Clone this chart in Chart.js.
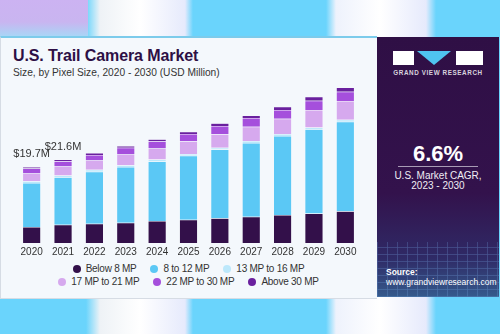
<!DOCTYPE html>
<html>
<head>
<meta charset="utf-8">
<script src="https://cdn.jsdelivr.net/npm/chart.js@4"></script>
<style>
  html, body { margin: 0; padding: 0; }
  body {
    width: 500px; height: 334px; position: relative; overflow: hidden;
    font-family: "Liberation Sans", Arial, sans-serif;
    background: linear-gradient(90deg, #6ad4fc 0, #6ad4fc 86px, #eef2f6 100px, #ffffff 140px, #e6eafc 185px, #6ad4fc 193px, #6ad4fc 326px, #eef2fc 336px, #ffffff 380px, #e6eafc 426px, #6ad4fc 436px);
  }
  #lav { position: absolute; left: 0; top: 0; width: 88px; height: 36px; background: linear-gradient(180deg, #ccb3f2 0, #c9b5f0 22px, #a9d5f6 36px); }
  #panel { position: absolute; left: 0; top: 36px; width: 376px; height: 260px; background: #f4f8fc; border-top: 2px solid #7ccbeb; border-left: 1px solid #d6dce4; border-bottom: 1px solid #d6dce4; }
  #side { position: absolute; left: 377px; top: 37px; width: 122px; height: 260px; background: linear-gradient(180deg, #2f0f45 0, #33124c 60%, #2f2a66 85%, #355a8c 100%); overflow: hidden; }
  #grid { position: absolute; left: 0; top: 205px; width: 122px; height: 55px; opacity: 0.35;
    background: repeating-linear-gradient(0deg, rgba(120,170,230,0.7) 0 1px, transparent 1px 7px), repeating-linear-gradient(90deg, rgba(120,170,230,0.7) 0 1px, transparent 1px 10px); }
  #title { position: absolute; left: 13px; top: 47px; font-size: 16px; font-weight: bold; color: #2d0f45; letter-spacing: -0.1px; }
  #subtitle { position: absolute; left: 13px; top: 67px; font-size: 10.2px; color: #333; }
  #chartBox { position: absolute; left: 1px; top: 38px; width: 376px; height: 224px; }
  #legend { position: absolute; left: 0; top: 262px; width: 377px; font-size: 10px; letter-spacing: -0.25px; color: #333; }
  .row { display: flex; justify-content: center; height: 13px; }
  .item { display: flex; align-items: center; margin: 0 7px; white-space: nowrap; }
  .dot { width: 8px; height: 8px; border-radius: 50%; margin-right: 5px; }
  .logo { position: absolute; top: 14px; height: 14px; background: #fff; }
  #tri { position: absolute; left: 40px; top: 14px; width: 0; height: 0; border-left: 17px solid transparent; border-right: 17px solid transparent; border-top: 14px solid #4fc3f0; }
  #gvr { position: absolute; left: 0; top: 32px; width: 122px; text-align: center; font-size: 6.3px; font-weight: bold; color: #d8d3de; letter-spacing: 0.6px; }
  #cagr { position: absolute; left: 0; top: 104px; width: 122px; text-align: center; font-size: 22px; font-weight: bold; color: #fff; }
  #line { position: absolute; left: 21px; top: 129px; width: 80px; height: 1px; background: #a89bb5; }
  #cagrText { position: absolute; left: 0; top: 134px; width: 122px; text-align: center; font-size: 10px; line-height: 10px; color: #f0ecf3; }
  #src { position: absolute; left: 9px; top: 230px; font-size: 8.5px; line-height: 10px; color: #fff; }
</style>
</head>
<body>
<div id="lav"></div>
<div id="panel"></div>
<div id="side">
  <div id="grid"></div>
  <div class="logo" style="left:16px;width:21px;"></div>
  <div id="tri"></div>
  <div class="logo" style="left:79px;width:27px;"></div>
  <div id="gvr">GRAND VIEW RESEARCH</div>
  <div id="cagr">6.6%</div>
  <div id="line"></div>
  <div id="cagrText">U.S. Market CAGR,<br>2023 - 2030</div>
  <div id="src"><b>Source:</b><br>www.grandviewresearch.com</div>
</div>
<div id="title">U.S. Trail Camera Market</div>
<div id="subtitle">Size, by Pixel Size, 2020 - 2030 (USD Million)</div>
<div id="chartBox"><canvas id="grafico"></canvas></div>
<div id="legend"></div>
<script>
const anios = ["2020", "2021", "2022", "2023", "2024", "2025", "2026", "2027", "2028", "2029", "2030"];
const bajo8 = [4.15, 4.7, 5.0, 5.25, 5.7, 6.0, 6.4, 6.8, 7.25, 7.65, 8.2];
const de8a12 = [11.4, 12.35, 13.45, 14.45, 15.4, 16.6, 17.8, 19.1, 20.5, 21.8, 23.2];
const de13a16 = [0.45, 0.45, 0.5, 0.45, 0.5, 0.45, 0.5, 0.5, 0.5, 0.45, 0.5];
const de17a21 = [2.0, 2.3, 2.4, 2.75, 2.85, 3.3, 3.45, 3.7, 3.95, 4.55, 4.9];
const de22a30 = [1.3, 1.35, 1.45, 1.8, 1.9, 1.9, 2.15, 2.3, 2.25, 2.4, 2.4];
const sobre30 = [0.4, 0.45, 0.5, 0.45, 0.5, 0.6, 0.7, 0.6, 0.85, 1.05, 1.1];
const etiquetasTotal = ["$19.7M", "$21.6M"];

const series = [
  { label: "Below 8 MP", data: bajo8, color: "#33104a" },
  { label: "8 to 12 MP", data: de8a12, color: "#5bc8f5" },
  { label: "13 MP to 16 MP", data: de13a16, color: "#bce8fb" },
  { label: "17 MP to 21 MP", data: de17a21, color: "#d6a9ee" },
  { label: "22 MP to 30 MP", data: de22a30, color: "#a54fdc" },
  { label: "Above 30 MP", data: sobre30, color: "#6a209e" }
];

const etiquetasPlugin = {
  id: "etiquetasTotal",
  afterDatasetsDraw(chart) {
    const ctx = chart.ctx;
    const x = chart.scales.x;
    const y = chart.scales.y;
    ctx.save();
    ctx.font = "11px 'Liberation Sans', Arial, sans-serif";
    ctx.fillStyle = "#333";
    ctx.textAlign = "center";
    ctx.textBaseline = "middle";
    etiquetasTotal.forEach((texto, i) => {
      const total = series.reduce((suma, s) => suma + s.data[i], 0);
      ctx.fillText(texto, x.getPixelForValue(i), y.getPixelForValue(total) - 13);
    });
    ctx.restore();
  }
};

new Chart(document.getElementById("grafico").getContext("2d"), {
  type: "bar",
  data: {
    labels: anios,
    datasets: series.map((s) => ({
      label: s.label,
      data: s.data,
      backgroundColor: s.color,
      borderColor: "rgba(255,255,255,0.35)",
      borderWidth: 0.5,
      barPercentage: 0.58,
      categoryPercentage: 1
    }))
  },
  options: {
    responsive: true,
    maintainAspectRatio: false,
    animation: false,
    layout: { padding: { left: 15, right: 16, top: 12, bottom: 1 } },
    plugins: { legend: { display: false }, tooltip: { enabled: false } },
    scales: {
      x: {
        stacked: true,
        grid: { display: false, drawTicks: false },
        border: { display: false },
        ticks: { color: "#333", font: { size: 10, family: "'Liberation Sans', Arial, sans-serif" }, padding: 3 }
      },
      y: { stacked: true, display: false, min: 0, max: 50 }
    }
  },
  plugins: [etiquetasPlugin]
});

const leyenda = document.getElementById("legend");
[series.slice(0, 3), series.slice(3)].forEach((fila) => {
  const row = document.createElement("div");
  row.className = "row";
  row.innerHTML = fila.map((s) => `<div class="item"><span class="dot" style="background:${s.color}"></span>${s.label}</div>`).join("");
  leyenda.appendChild(row);
});
</script>
</body>
</html>
